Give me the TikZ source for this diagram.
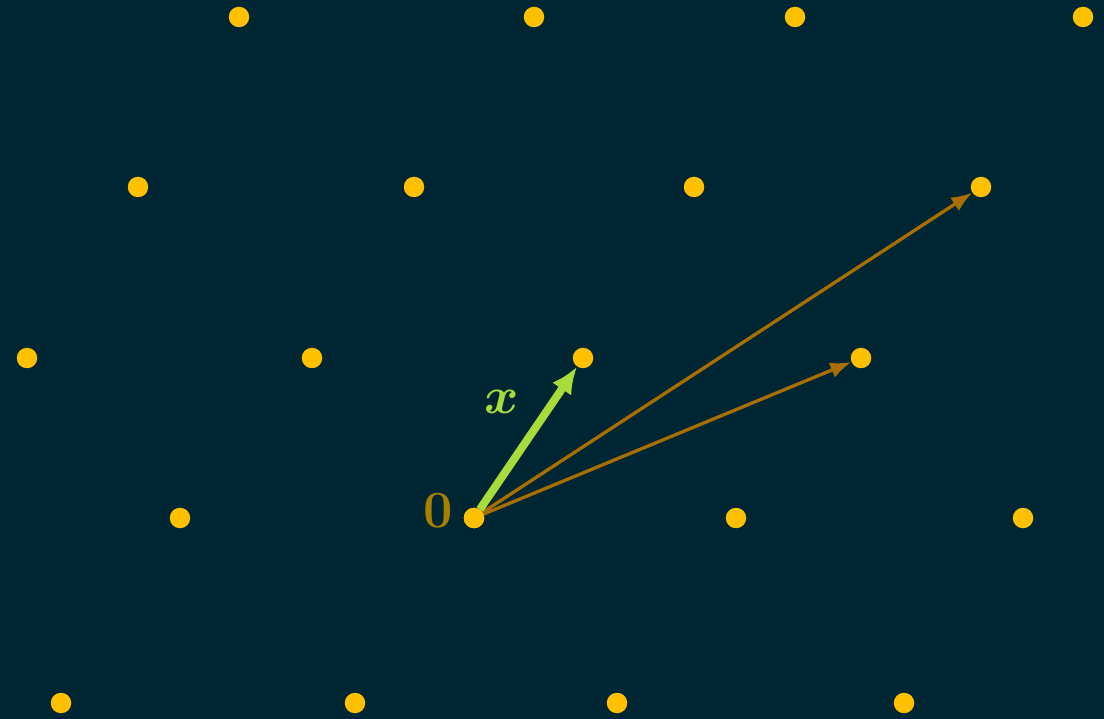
\documentclass[tikz,border=0pt]{standalone}
\usepackage{amsmath,amssymb}
\usepackage{tikz}
\usetikzlibrary{arrows.meta}
\definecolor{bgteal}{HTML}{002633}
\definecolor{dotyellow}{HTML}{FFC000}
\definecolor{vecgreen}{HTML}{A8DC3C}
\definecolor{vecbrown}{HTML}{A86F00}
\definecolor{zerobrown}{HTML}{A88000}

\begin{document}
\begin{tikzpicture}[x=1pt,y=-1pt,
    dot/.style={circle, fill=dotyellow, inner sep=0pt, minimum size=20.5pt},
    vecx/.style={draw=vecgreen, line width=8pt, -{Latex[length=27pt,width=23pt]}},
    vecsum/.style={draw=vecbrown, line width=3.3pt, -{Latex[length=21pt,width=16pt]}},
    lbl/.style={font=\Huge, scale=2.1}]
    \fill[bgteal] (0,0) rectangle (1104,719);
    \useasboundingbox (0,0) rectangle (1104,719);
    \foreach \x/\y/\n in {239/17/r1c1, 534/17/r1c2, 795/17/r1c3, 1083/17/r1c4,
        138/187/r2c1, 414/187/r2c2, 694/187/r2c3, 981/187/r2c4,
        27/358/r3c1, 312/358/r3c2, 583/358/r3c3, 861/358/r3c4,
        180/518/r4c1, 474/518/o, 736/518/r4c3, 1023/518/r4c4,
        61/703/r5c1, 355/703/r5c2, 617/703/r5c3, 904/703/r5c4}
    {
        \node[dot] (\n) at (\x,\y) {};
    }
    \draw[vecsum] (o) -- (r2c4);
    \draw[vecsum] (o) -- (r3c4);
    \draw[vecx] (o) -- (r3c3);
    \node[dot] at (o) {};
    \node[lbl, text=zerobrown] (zero) at (438,511) {$\mathbf{0}$};
    \node[lbl, text=vecgreen] (xlabel) at (502,402) {$\boldsymbol{x}$};
\end{tikzpicture}
\end{document}
